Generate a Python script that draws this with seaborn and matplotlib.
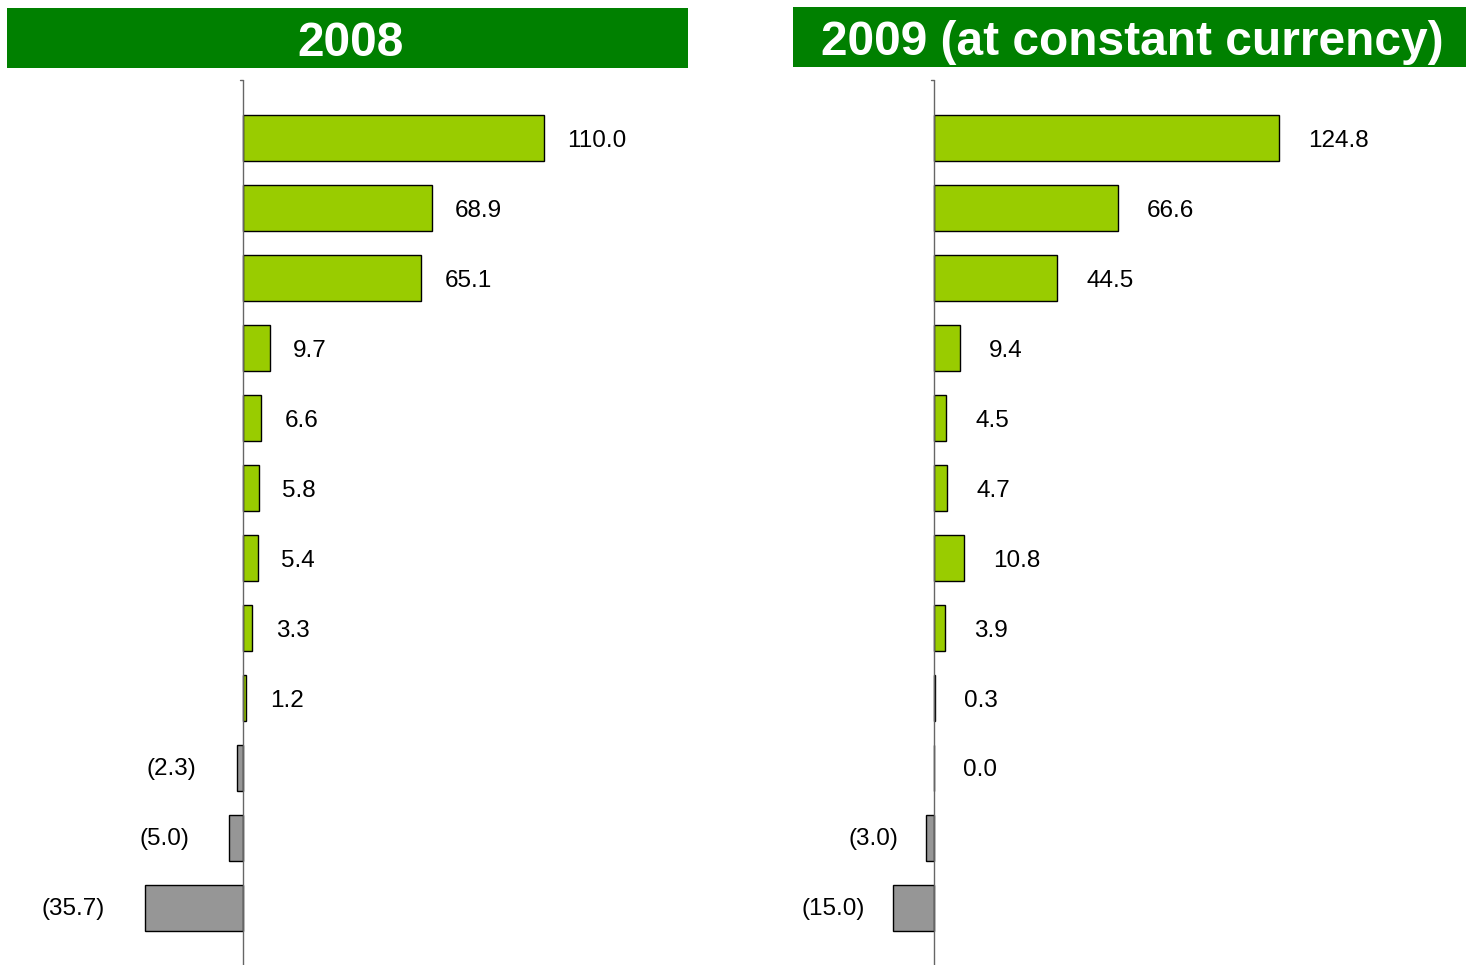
import matplotlib
matplotlib.use("Agg")
import matplotlib.pyplot as plt
import seaborn as sns
import pandas as pd
from matplotlib.patches import Rectangle

sns.set_style("white")
plt.rcParams['font.family'] = ['Liberation Sans', 'DejaVu Sans']

# ---- data ----
titles = ["2008", "2009 (at constant currency)"]
values_2008 = [110.0, 68.9, 65.1, 9.7, 6.6, 5.8, 5.4, 3.3, 1.2, -2.3, -5.0, -35.7]
values_2009 = [124.8, 66.6, 44.5, 9.4, 4.5, 4.7, 10.8, 3.9, 0.3, 0.0, -3.0, -15.0]
categories = [f"c{i}" for i in range(12)]

GREEN = "#99CC00"
GRAY = "#969696"
TITLE_GREEN = "#008000"

W, H = 1466, 965
fig = plt.figure(figsize=(W / 100, H / 100), dpi=100)


def px_axes(x0, x1, y0, y1):
    return fig.add_axes([x0 / W, 1 - y1 / H, (x1 - x0) / W, (y1 - y0) / H])


panels = [
    dict(vals=values_2008, ax=(7, 688, 80, 965), zero=243, scale=2.736,
         bar=(7, 688, 8, 68), pos_gap=17, neg_gap=29),
    dict(vals=values_2009, ax=(793, 1466, 80, 965), zero=934, scale=2.764,
         bar=(793, 1466, 7, 67), pos_gap=21, neg_gap=20),
]

for p, title in zip(panels, titles):
    x0, x1, y0, y1 = p["ax"]
    ax = px_axes(x0, x1, y0, y1)
    df = pd.DataFrame({"cat": categories, "val": p["vals"]})
    colors = [GREEN if v > 0 else GRAY for v in p["vals"]]
    sns.barplot(data=df, x="val", y="cat", hue="cat", palette=colors,
                legend=False, orient="h", width=0.66, edgecolor="black",
                linewidth=1.0, saturation=1, ax=ax)
    ax.set_xlim(-(p["zero"] - x0) / p["scale"], (x1 - p["zero"]) / p["scale"])
    ax.set_ylim(11.82, -0.83)
    for s in ["top", "right", "bottom", "left"]:
        ax.spines[s].set_visible(False)
    ax.axvline(0, color="#666666", linewidth=1.0)
    ax.plot([-1.2, 0], [-0.83, -0.83], color="#666666", linewidth=1.0, clip_on=False)
    ax.set_xticks([])
    ax.set_yticks([])
    ax.set_xlabel("")
    ax.set_ylabel("")
    ax.patch.set_alpha(0)
    for i, v in enumerate(p["vals"]):
        if v >= 0:
            ax.annotate(f"{v:.1f}", xy=(max(v, 0), i), xytext=(p["pos_gap"], -2),
                        textcoords="offset points", ha="left", va="center",
                        fontsize=17.5, color="black")
        else:
            ax.annotate(f"({abs(v):.1f})", xy=(v, i), xytext=(-p["neg_gap"], -1),
                        textcoords="offset points", ha="right", va="center",
                        fontsize=17.5, color="black")
    bx0, bx1, by0, by1 = p["bar"]
    fig.patches.append(Rectangle((bx0 / W, 1 - by1 / H), (bx1 - bx0) / W, (by1 - by0) / H,
                                 transform=fig.transFigure, facecolor=TITLE_GREEN,
                                 edgecolor="none", zorder=0))
    fig.text((bx0 + bx1) / 2 / W + 3 / W, 1 - (by1 - 12) / H, title, ha="center",
             va="baseline", color="white", fontsize=34.5, fontweight="bold",
             family=["Liberation Sans", "DejaVu Sans"])

fig.savefig("out.png", dpi=100, facecolor="white")
